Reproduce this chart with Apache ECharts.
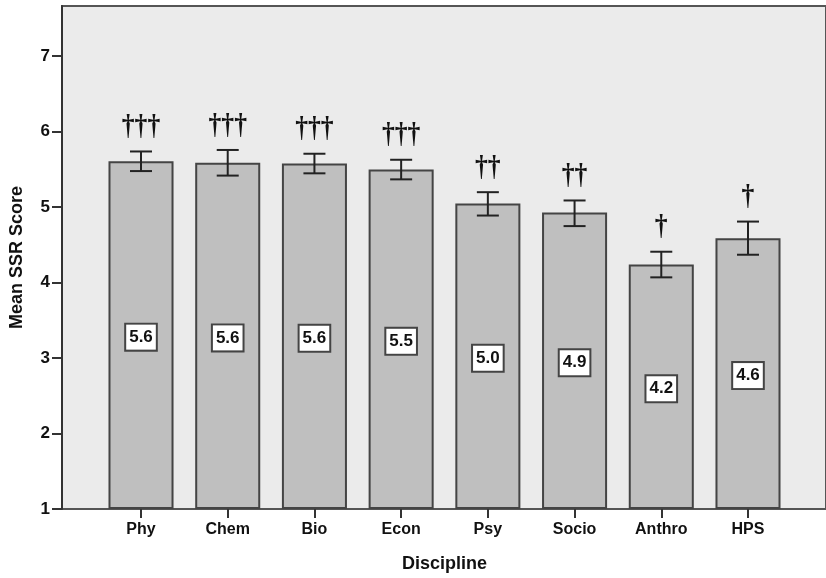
<!DOCTYPE html>
<html><head><meta charset="utf-8">
<script src="https://cdn.jsdelivr.net/npm/echarts@6/dist/echarts.min.js"></script>
<style>html,body{margin:0;padding:0;background:#fff}#c{width:826px;height:578px}</style>
</head><body><div id="c"></div>
<script>
const categories = ['Phy','Chem','Bio','Econ','Psy','Socio','Anthro','HPS'];
const means = [5.60, 5.58, 5.57, 5.49, 5.04, 4.92, 4.23, 4.58];
const labels = ['5.6','5.6','5.6','5.5','5.0','4.9','4.2','4.6'];
const errLow = [5.47, 5.41, 5.44, 5.36, 4.88, 4.74, 4.06, 4.36];
const errHigh = [5.73, 5.75, 5.70, 5.62, 5.19, 5.08, 4.40, 4.80];
const marks = ['†††','†††','†††','†††','††','††','†','†'];
const yTicks = [1,2,3,4,5,6,7];

const FONT = 'Liberation Sans, Arial, sans-serif';
const chart = echarts.init(document.getElementById('c'));
const yMin = 1, yMax = 7.66;

chart.setOption({
  animation: false,
  backgroundColor: '#ffffff',
  grid: [
    {left: 60, right: -3, top: 6, bottom: 69, show: true, backgroundColor: '#ebebeb', borderColor: '#555', borderWidth: 2},
    {left: 97.65, right: 34.65, top: 6, bottom: 69}
  ],
  xAxis: [
    {type: 'value', gridIndex: 0, show: false, min: 0, max: 1},
    {type: 'category', gridIndex: 1, data: categories,
     axisLine: {show: false},
     axisTick: {show: true, alignWithLabel: true, length: 10, lineStyle: {color: '#333', width: 2}},
     axisLabel: {color: '#111', fontFamily: FONT, fontWeight: 'bold', fontSize: 16, margin: 14},
     name: 'Discipline', nameLocation: 'middle', nameGap: 47,
     nameTextStyle: {color: '#111', fontFamily: FONT, fontWeight: 'bold', fontSize: 18}}
  ],
  yAxis: [
    {type: 'value', gridIndex: 0, min: yMin, max: yMax, interval: 1,
     splitLine: {show: false},
     axisLine: {show: true, lineStyle: {color: '#333', width: 2}},
     axisTick: {show: true, length: 10, customValues: yTicks, lineStyle: {color: '#333', width: 2}},
     axisLabel: {color: '#111', fontFamily: FONT, fontWeight: 'bold', fontSize: 17, margin: 12, customValues: yTicks},
     name: 'Mean SSR Score', nameLocation: 'middle', nameGap: 36, nameRotate: 90,
     nameTextStyle: {color: '#111', fontFamily: FONT, fontWeight: 'bold', fontSize: 18}},
    {type: 'value', gridIndex: 1, min: yMin, max: yMax, show: false, splitLine: {show: false}}
  ],
  series: [
    {type: 'bar', xAxisIndex: 1, yAxisIndex: 1, data: means, barCategoryGap: '25%',
     itemStyle: {color: '#bfbfbf', borderColor: '#444', borderWidth: 2},
     label: {show: true, position: 'inside', offset: [0, 2],
       formatter: p => labels[p.dataIndex],
       color: '#111', fontFamily: '"Liberation Sans Narrow", "Liberation Sans", sans-serif', fontWeight: 'bold', fontSize: 17,
       backgroundColor: '#fff', borderColor: '#444', borderWidth: 2, padding: [5, 3, 3, 3]}},
    {type: 'custom', xAxisIndex: 1, yAxisIndex: 1, z: 5,
     data: categories.map((c, i) => [i, errLow[i], errHigh[i]]),
     renderItem: (params, api) => {
       const x = api.coord([api.value(0), api.value(1)])[0];
       const yl = api.coord([api.value(0), api.value(1)])[1];
       const yh = api.coord([api.value(0), api.value(2)])[1];
       const hw = 11;
       const st = {stroke: '#222', lineWidth: 2};
       return {type: 'group', children: [
         {type: 'line', shape: {x1: x, y1: yl, x2: x, y2: yh}, style: st},
         {type: 'line', shape: {x1: x - hw, y1: yl, x2: x + hw, y2: yl}, style: st},
         {type: 'line', shape: {x1: x - hw, y1: yh, x2: x + hw, y2: yh}, style: st},
         {type: 'text', x: x, y: yh - 9, scaleX: 0.95, scaleY: 1.12,
           style: {text: marks[params.dataIndex], x: 0, y: 0,
           align: 'center', verticalAlign: 'bottom',
           fill: '#111', font: 'bold 27px "Liberation Serif"'}}
       ]};
     }}
  ]
});
</script></body></html>
